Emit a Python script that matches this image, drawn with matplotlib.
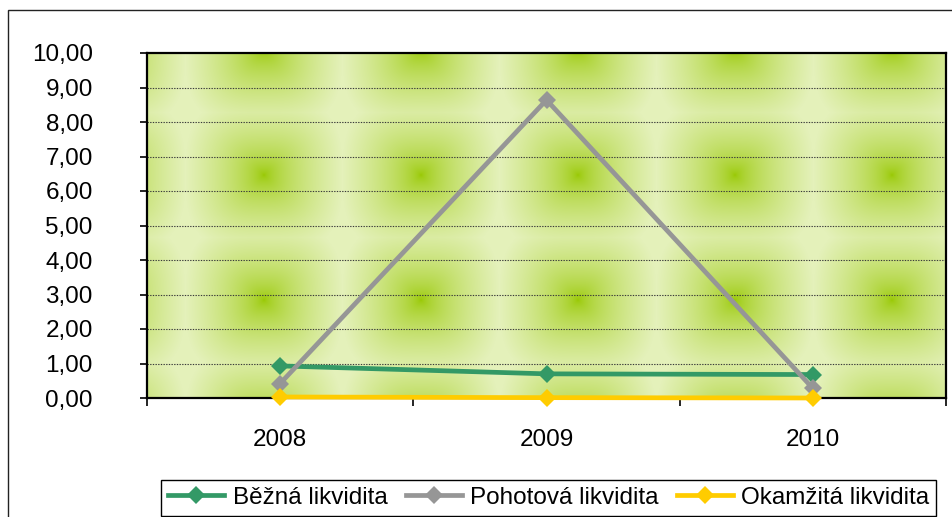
#!/usr/bin/env python
"""
Line chart of liquidity ratios (2008-2010) on a green textured background.
Saves the figure as out.png.
"""

import numpy as np
import matplotlib
matplotlib.use("Agg")
import matplotlib.pyplot as plt
from matplotlib.patches import Rectangle
from matplotlib.colors import to_rgb

# Data
YEARS = ["2008", "2009", "2010"]
BEZNA = [0.93, 0.70, 0.68]
POHOTOVA = [0.42, 8.64, 0.28]
OKAMZITA = [0.03, 0.01, 0.00]

SERIES_NAMES = ["Běžná likvidita", "Pohotová likvidita", "Okamžitá likvidita"]
SERIES_COLORS = ["#339966", "#969696", "#FFCC00"]

W, H = 952, 517
DPI = 100

plt.rcParams['font.family'] = ['Liberation Sans', 'DejaVu Sans']
plt.rcParams['font.size'] = 17.5


def texture(width, height):
    """
    Builds the tiled green background (soft rectangular gradient per tile).
    """
    px, py = 157.0, 125.0
    x0, y0 = 117.0, -3.0
    xs = np.arange(width) + 0.5
    ys = np.arange(height) + 0.5
    dx = np.abs(((xs - x0 + px / 2) % px) - px / 2) / (px / 2)
    dy = np.abs(((ys - y0 + py / 2) % py) - py / 2) / (py / 2)
    p = 3.0
    t = (dx[None, :] ** p + (dy[:, None] * 0.8) ** p) ** (1 / p)
    t = np.clip(t, 0, 1) ** 0.6
    center = np.array(to_rgb("#97C800"))
    edge = np.array(to_rgb("#E4F1BA"))
    return center + (edge - center) * t[..., None]


def plot_chart():
    """
    Draws the chart.
    """
    fig = plt.figure(figsize=(W / DPI, H / DPI), dpi=DPI)

    # Outer chart border
    fig.add_artist(Rectangle((8 / W, -0.1), 1.2, 1 - 10 / H + 0.1,
                             transform=fig.transFigure, fill=False,
                             lw=1.0, ec="#222222"))

    left, right, top, bottom = 147, 946, 53, 398
    ax = fig.add_axes([left / W, (H - bottom) / H,
                       (right - left) / W, (bottom - top) / H])

    x = np.arange(len(YEARS))
    ax.set_xlim(-0.5, len(YEARS) - 0.5)
    ax.set_ylim(0, 10)

    # Background texture
    img = texture(right - left, bottom - top)
    ax.imshow(img, extent=(-0.5, len(YEARS) - 0.5, 0, 10), aspect='auto',
              interpolation='bilinear', zorder=0)

    # Dotted gridlines
    for v in range(1, 10):
        ax.axhline(v, color="#3a3a3a", lw=0.8, ls=(0, (1.2, 1.2)), zorder=1)

    data = [BEZNA, POHOTOVA, OKAMZITA]
    for i, (vals, name, col) in enumerate(zip(data, SERIES_NAMES, SERIES_COLORS)):
        ax.plot(x, vals, color=col, lw=3.4, marker='D', ms=9.5,
                markeredgewidth=0, label=name, clip_on=False, zorder=3 + i)

    # Axes styling
    for s in ax.spines.values():
        s.set_linewidth(1.6)
        s.set_color("black")
        s.set_zorder(2)

    ax.set_yticks(range(0, 11))
    ax.set_yticklabels([("%.2f" % v).replace('.', ',') for v in range(0, 11)])
    ax.tick_params(axis='y', direction='out', length=5, width=1.2, pad=34)

    ax.set_xticks(x)
    ax.set_xticklabels(YEARS)
    ax.set_xticks(np.arange(-0.5, len(YEARS)), minor=True)
    ax.tick_params(axis='x', which='major', length=0, pad=22)
    ax.tick_params(axis='x', which='minor', direction='out', length=6, width=1.2)

    leg = fig.legend(loc='center', bbox_to_anchor=(0.5765, 0.037), ncol=3,
                     frameon=True, fancybox=False, edgecolor="black",
                     framealpha=1, handlelength=2.3, handletextpad=0.35,
                     columnspacing=0.75, borderpad=0.28, borderaxespad=0)
    leg.get_frame().set_linewidth(1.0)

    fig.savefig("out.png", dpi=DPI)


if __name__ == "__main__":
    plot_chart()
